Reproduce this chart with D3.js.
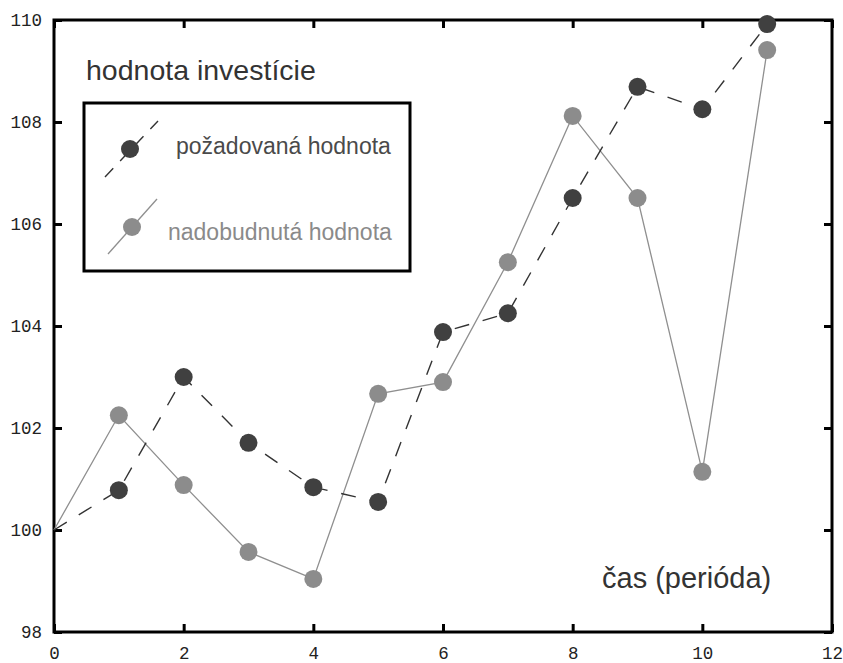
<!DOCTYPE html>
<html><head><meta charset="utf-8">
<script src="https://cdn.jsdelivr.net/npm/d3@7"></script>
<style>body{margin:0;background:#fff}svg{display:block}</style>
</head><body>
<script>
const periods = [0,1,2,3,4,5,6,7,8,9,10,11];
const pozadovana = [100,100.78,103.0,101.71,100.84,100.55,103.88,104.25,106.51,108.69,108.25,109.92];
const nadobudnuta = [100,102.25,100.88,99.57,99.04,102.67,102.90,105.25,108.12,106.51,101.14,109.41];
const xTicks = [0,2,4,6,8,10,12];
const yTicks = [98,100,102,104,106,108,110];
const seriesNames = ["požadovaná hodnota","nadobudnutá hodnota"];
const titleText = "hodnota investície";
const xLabel = "čas (perióda)";

const W=843,H=663;
const m={l:54,r:11,t:20,b:31};
const svg=d3.select("body").append("svg").attr("width",W).attr("height",H);
const x=d3.scaleLinear().domain([0,12]).range([m.l,W-m.r]);
const y=d3.scaleLinear().domain([98,110]).range([H-m.b,m.t]);

const darkC="#404040", lightC="#8c8c8c";
const tickFont="'Liberation Mono', monospace";

// axes
const g=svg.append("g");
const axB=d3.axisBottom(x).tickValues(xTicks).tickSize(-8).tickPadding(15).tickFormat(d3.format("d"));
const axT=d3.axisTop(x).tickValues(xTicks).tickSize(-8).tickFormat("");
const axL=d3.axisLeft(y).tickValues(yTicks).tickSize(-8).tickPadding(12).tickFormat(d3.format("d"));
const axR=d3.axisRight(y).tickValues(yTicks).tickSize(-8).tickFormat("");
function style(sel){
  sel.select(".domain").remove();
  sel.selectAll(".tick line").attr("stroke","#000").attr("stroke-width",3);
  sel.selectAll(".tick text").attr("fill","#222").style("font-family",tickFont).style("font-size","17.5px");
}
g.append("g").attr("transform",`translate(0,${H-m.b})`).call(axB).call(style);
g.append("g").attr("transform",`translate(0,${m.t})`).call(axT).call(style);
g.append("g").attr("transform",`translate(${m.l},0)`).call(axL).call(style);
g.append("g").attr("transform",`translate(${W-m.r},0)`).call(axR).call(style);
svg.append("rect").attr("x",m.l).attr("y",m.t).attr("width",W-m.l-m.r).attr("height",H-m.t-m.b)
  .attr("fill","none").attr("stroke","#000").attr("stroke-width",3);

// lines
const line=d3.line().x((d,i)=>x(periods[i])).y(d=>y(d));
svg.append("path").datum(nadobudnuta).attr("d",line).attr("fill","none").attr("stroke","#8f8f8f").attr("stroke-width",1.3);
svg.append("path").datum(pozadovana).attr("d",line).attr("fill","none").attr("stroke","#333").attr("stroke-width",1.4).attr("stroke-dasharray","15,14");

// markers (skip period 0)
svg.append("g").selectAll("circle").data(nadobudnuta.slice(1)).join("circle")
  .attr("cx",(d,i)=>x(periods[i+1])).attr("cy",d=>y(d)).attr("r",9).attr("fill",lightC);
svg.append("g").selectAll("circle").data(pozadovana.slice(1)).join("circle")
  .attr("cx",(d,i)=>x(periods[i+1])).attr("cy",d=>y(d)).attr("r",9).attr("fill",darkC);

// title & axis label
const sans="'Liberation Sans', Arial, sans-serif";
svg.append("text").attr("x",86).attr("y",80).text(titleText).attr("fill","#333")
  .style("font-family",sans).style("font-size","28.5px");
svg.append("text").attr("x",602).attr("y",588).text(xLabel).attr("fill","#333")
  .style("font-family",sans).style("font-size","29px");

// legend
const lg=svg.append("g");
lg.append("rect").attr("x",84).attr("y",103).attr("width",326).attr("height",168)
  .attr("fill","#fff").attr("stroke","#000").attr("stroke-width",3);
lg.append("line").attr("x1",105).attr("y1",177).attr("x2",158).attr("y2",121)
  .attr("stroke","#333").attr("stroke-width",1.4).attr("stroke-dasharray","12,10");
lg.append("circle").attr("cx",130).attr("cy",149).attr("r",9).attr("fill",darkC);
lg.append("text").attr("x",176).attr("y",154).text(seriesNames[0]).attr("fill","#4a4a4a")
  .style("font-family",sans).style("font-size","23px");
lg.append("line").attr("x1",108).attr("y1",254).attr("x2",157).attr("y2",199)
  .attr("stroke","#8f8f8f").attr("stroke-width",1.3);
lg.append("circle").attr("cx",132).attr("cy",227).attr("r",9).attr("fill",lightC);
lg.append("text").attr("x",168).attr("y",240).text(seriesNames[1]).attr("fill","#8a8a8a")
  .style("font-family",sans).style("font-size","23px");
</script>
</body></html>
